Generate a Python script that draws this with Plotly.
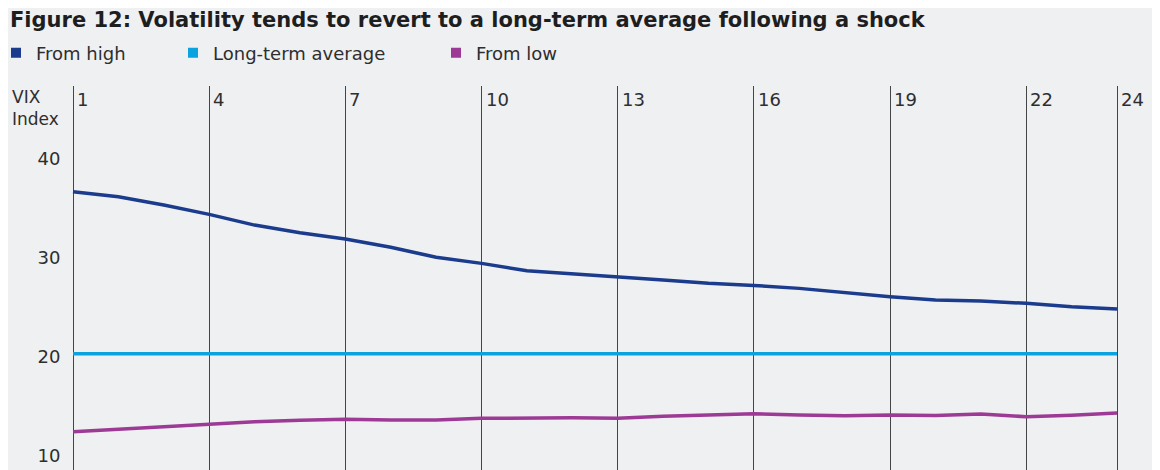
import plotly.graph_objects as go

# months after the shock
months = list(range(1, 25))

from_high = [36.34, 35.84, 35.0, 34.06, 32.98, 32.21, 31.57, 30.74, 29.73, 29.12,
             28.38, 28.04, 27.77, 27.44, 27.11, 26.9, 26.6, 26.16, 25.76, 25.42,
             25.32, 25.09, 24.75, 24.52]
long_term_avg = [20] * 24
from_low = [12.15, 12.39, 12.59, 12.89, 13.15, 13.3, 13.4, 13.33, 13.33, 13.5,
            13.56, 13.56, 13.5, 13.71, 13.83, 13.96, 13.83, 13.76, 13.83, 13.79,
            13.93, 13.66, 13.8, 14.03]

x_ticks = [1, 4, 7, 10, 13, 16, 19, 22, 24]
y_ticks = [10, 20, 30, 40]

series = [
  ("From high", from_high, "#1b3b8c", "legend"),
  ("Long-term average", long_term_avg, "#0aa3e0", "legend2"),
  ("From low", from_low, "#9d3a95", "legend3"),
]

FONT = "DejaVu Sans"
TXT = "#2e2e2e"
BG = "#eff0f2"

# the page body adds an 8px margin, so the figure is 8px smaller each way
W, H = 1152, 462
L, T = 63, 78
PW, PH = 1048, 384

fig = go.Figure()

for name, vals, col, leg in series:
  fig.add_trace(go.Scatter(x=months, y=vals, mode="lines", name=name,
                           line=dict(color=col, width=3.5), showlegend=False))
  # square legend marker
  fig.add_trace(go.Scatter(x=[None], y=[None], mode="markers", name=name,
                           marker=dict(symbol="square", size=10, color=col),
                           legend=leg))

# x labels sit just right of each vertical line
for t in x_ticks:
  fig.add_annotation(x=t, y=0.966, xref="x", yref="paper", text=str(t),
                     showarrow=False, xanchor="left", yanchor="middle", xshift=2,
                     font=dict(family=FONT, size=18, color=TXT))

fig.add_annotation(x=-0.0582, y=0.9427, xref="paper", yref="paper", text="VIX<br>Index",
                   showarrow=False, xanchor="left", yanchor="middle", align="left",
                   font=dict(family=FONT, size=17, color=TXT))

leg_common = dict(orientation="h", xref="paper", yref="paper",
                  xanchor="left", yanchor="middle", y=(H - 45) / PH,
                  bgcolor="rgba(0,0,0,0)", borderwidth=0,
                  font=dict(family=FONT, size=18, color=TXT))

fig.update_layout(
  width=W, height=H,
  margin=dict(l=L, r=W - L - PW, t=T, b=H - T - PH, pad=0, autoexpand=False),
  paper_bgcolor=BG, plot_bgcolor=BG,
  title=dict(text="Figure 12: Volatility tends to revert to a long-term average following a shock",
             x=2 / W, xanchor="left", xref="container",
             y=1 - 12 / H, yanchor="middle", yref="container",
             font=dict(family=FONT, size=21, color="#1e1e1e", weight="bold")),
  legend=dict(x=(-12 - L) / PW, **leg_common),
  legend2=dict(x=(165 - L) / PW, **leg_common),
  legend3=dict(x=(428 - L) / PW, **leg_common),
  xaxis=dict(range=[0.956, 24.044], tickvals=x_ticks, showticklabels=False,
             showgrid=True, gridcolor="#454545", gridwidth=1.4,
             zeroline=False, showline=False, ticks=""),
  yaxis=dict(range=[8.29, 47.0], tickvals=y_ticks, showgrid=False,
             zeroline=False, showline=False, ticks="outside", ticklen=6,
             tickcolor="rgba(0,0,0,0)", ticklabelshift=3,
             tickfont=dict(family=FONT, size=18, color=TXT)),
  shapes=[
    dict(type="rect", xref="paper", yref="paper", x0=1.0344, x1=1.06,
         y0=-0.05, y1=1.3, fillcolor="white", line=dict(width=0)),
  ],
)

fig.write_html("out.html")
